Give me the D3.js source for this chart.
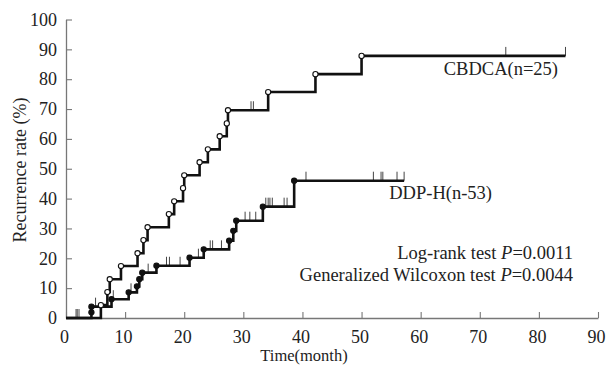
<!DOCTYPE html>
<html>
<head>
<meta charset="utf-8">
<script src="https://cdn.jsdelivr.net/npm/d3@7"></script>
<style>
  html, body { margin: 0; padding: 0; background: #ffffff; }
  svg text { font-family: "Liberation Serif", "Times New Roman", serif; fill: #222; }
</style>
</head>
<body>
<svg id="chart" width="607" height="365"></svg>
<script>
// ---- data ----
const xTicks = [0, 10, 20, 30, 40, 50, 60, 70, 80, 90];
const yTicks = [0, 10, 20, 30, 40, 50, 60, 70, 80, 90, 100];

// CBDCA (n=25): event times (month) and cumulative recurrence rate (%)
const cbdcaTimes = [5.9, 7.0, 7.4, 9.3, 12.1, 13.1, 13.8, 17.4, 18.3, 19.8, 20.0, 22.6, 24.0, 26.0, 27.2, 27.4, 34.2, 42.2, 50.0];
const cbdcaRates = [4.3, 8.7, 13.0, 17.4, 21.7, 26.1, 30.4, 34.8, 39.1, 43.5, 47.8, 52.2, 56.5, 60.9, 65.2, 69.6, 75.7, 81.7, 87.8];
const cbdcaCensorTimes = [1.7, 2.2, 31.3, 31.7, 74.4, 84.5];
const cbdcaEnd = 84.5;

// DDP-H (n=53)
const ddpTimes = [4.3, 4.3, 7.7, 10.6, 12.0, 12.4, 12.9, 15.3, 20.9, 23.3, 27.6, 28.3, 28.8, 33.3, 38.6];
const ddpRates = [1.9, 3.8, 6.3, 8.6, 10.6, 13.0, 15.2, 17.5, 20.2, 23.0, 25.9, 29.2, 32.6, 37.3, 46.0];
const ddpCensorTimes = [1.9, 5.0, 8.0, 11.0, 13.9, 17.0, 17.5, 19.3, 22.4, 24.4, 24.8, 26.3, 30.3, 31.1, 32.1, 33.8, 34.2, 34.5, 34.9, 36.9, 37.4, 40.6, 52.0, 53.3, 53.6, 56.0, 57.2];
const ddpEnd = 57.2;

const labelCBDCA = "CBDCA(n=25)";
const labelDDP = "DDP-H(n-53)";
const xTitle = "Time(month)";
const yTitle = "Recurrence rate (%)";

// ---- drawing ----
const svg = d3.select("#chart");
const x = d3.scaleLinear().domain([0, 90]).range([66, 598]);
const y = d3.scaleLinear().domain([0, 100]).range([318, 19.5]);

// axes
const xAxis = d3.axisBottom(x).tickValues(xTicks).tickSizeInner(-6).tickSizeOuter(0).tickPadding(12);
const yAxis = d3.axisLeft(y).tickValues(yTicks).tickSizeInner(-6).tickSizeOuter(0).tickPadding(9);

const gx = svg.append("g").attr("transform", `translate(0,${y(0)})`).call(xAxis);
const gy = svg.append("g").attr("transform", `translate(${x(0)},0)`).call(yAxis);
[gx, gy].forEach(g => {
  g.attr("font-family", "Liberation Serif, serif");
  g.select(".domain").attr("stroke", "#777").attr("stroke-width", 1.3);
  g.selectAll(".tick line").attr("stroke", "#777").attr("stroke-width", 1.1);
  g.selectAll(".tick text").attr("font-size", 18).attr("fill", "#222")
    .attr("font-family", "Liberation Serif, serif");
});
gx.selectAll(".tick text").attr("dx", -2);

// level at time t (just before censor)
function levelAt(times, rates, t) {
  let v = 0;
  for (let i = 0; i < times.length; i++) if (times[i] <= t) v = rates[i];
  return v;
}

function drawSeries(times, rates, censors, tEnd, filled) {
  const pts = [[0, 0]];
  times.forEach((t, i) => pts.push([t, rates[i]]));
  pts.push([tEnd, rates[rates.length - 1]]);
  const line = d3.line().x(d => x(d[0])).y(d => y(d[1])).curve(d3.curveStepAfter);

  // censor ticks
  svg.append("g").selectAll("line").data(censors).join("line")
    .attr("x1", d => x(d)).attr("x2", d => x(d))
    .attr("y1", d => y(levelAt(times, rates, d)))
    .attr("y2", d => y(levelAt(times, rates, d)) - 9)
    .attr("stroke", "#444").attr("stroke-width", 1);

  svg.append("path").datum(pts).attr("d", line)
    .attr("fill", "none").attr("stroke", "#111").attr("stroke-width", 2.6)
    .attr("stroke-linejoin", "miter");

  svg.append("g").selectAll("circle").data(times.map((t, i) => [t, rates[i]])).join("circle")
    .attr("cx", d => x(d[0])).attr("cy", d => y(d[1]))
    .attr("r", 2.6)
    .attr("fill", filled ? "#111" : "#fff")
    .attr("stroke", "#111").attr("stroke-width", 1.1);
}

drawSeries(ddpTimes, ddpRates, ddpCensorTimes, ddpEnd, true);
drawSeries(cbdcaTimes, cbdcaRates, cbdcaCensorTimes, cbdcaEnd, false);

// labels
svg.append("text").attr("x", 558).attr("y", 75).attr("text-anchor", "end")
  .attr("font-size", 18.5).text(labelCBDCA);
svg.append("text").attr("x", 492).attr("y", 199).attr("text-anchor", "end")
  .attr("font-size", 18.5).text(labelDDP);

const t1 = svg.append("text").attr("x", 573).attr("y", 259).attr("text-anchor", "end").attr("font-size", 18.5);
t1.append("tspan").text("Log-rank test ");
t1.append("tspan").attr("font-style", "italic").text("P");
t1.append("tspan").text("=0.0011");
const t2 = svg.append("text").attr("x", 573).attr("y", 281).attr("text-anchor", "end").attr("font-size", 18.5);
t2.append("tspan").text("Generalized Wilcoxon test ");
t2.append("tspan").attr("font-style", "italic").text("P");
t2.append("tspan").text("=0.0044");

svg.append("text").attr("x", 304).attr("y", 361).attr("text-anchor", "middle")
  .attr("font-size", 16.5).text(xTitle);
svg.append("text").attr("transform", "translate(26,170) rotate(-90)").attr("text-anchor", "middle")
  .attr("font-size", 18).text(yTitle);
</script>
</body>
</html>
